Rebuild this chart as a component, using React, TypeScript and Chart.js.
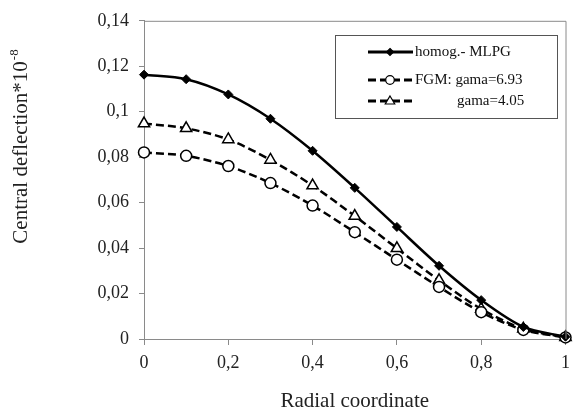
import React, { useEffect, useRef } from "react";
import { Chart, registerables } from "chart.js";

Chart.register(...registerables);

const radial = [0, 0.1, 0.2, 0.3, 0.4, 0.5, 0.6, 0.7, 0.8, 0.9, 1];
const homog = [0.1163, 0.1143, 0.1076, 0.0969, 0.0828, 0.0665, 0.0493, 0.0322, 0.0171, 0.0053, 0.001];
const gama693 = [0.0821, 0.0806, 0.0761, 0.0686, 0.0587, 0.047, 0.0349, 0.0229, 0.0118, 0.004, 0.0007];
const gama405 = [0.0948, 0.0927, 0.0878, 0.0788, 0.0675, 0.0541, 0.0399, 0.0258, 0.0132, 0.0045, 0.0008];
const seriesLabels = ["homog.- MLPG", "FGM: gama=6.93", "gama=4.05"];
const xTitle = "Radial coordinate";
const yTitle = "Central deflection*10";
const yTitleSup = "-8";

const SERIF = "'Liberation Serif', 'Times New Roman', serif";
const AXIS = "#8a8a8a";

const fmt = (v: number) => String(+Number(v).toFixed(2)).replace(".", ",");

const toPts = (ys: number[]) => radial.map((x, i) => ({ x, y: ys[i] }));

function drawMarker(ctx: CanvasRenderingContext2D, style: string, x: number, y: number, r: number) {
  ctx.beginPath();
  if (style === "rectRot") {
    ctx.moveTo(x, y - r);
    ctx.lineTo(x + r, y);
    ctx.lineTo(x, y + r);
    ctx.lineTo(x - r, y);
    ctx.closePath();
  } else if (style === "triangle") {
    ctx.moveTo(x, y - r);
    ctx.lineTo(x + r * 0.95, y + r * 0.6);
    ctx.lineTo(x - r * 0.95, y + r * 0.6);
    ctx.closePath();
  } else {
    ctx.arc(x, y, r, 0, Math.PI * 2);
  }
  ctx.fill();
  ctx.stroke();
}

const framePlugin = {
  id: "frame",
  afterDraw(chart: any) {
    const { ctx, chartArea } = chart;
    ctx.save();
    ctx.strokeStyle = AXIS;
    ctx.lineWidth = 1;
    ctx.beginPath();
    ctx.moveTo(chartArea.left, chartArea.top + 0.5);
    ctx.lineTo(chartArea.right + 0.5, chartArea.top + 0.5);
    ctx.lineTo(chartArea.right + 0.5, chartArea.bottom);
    ctx.stroke();

    ctx.fillStyle = "#222";
    ctx.translate(27, 0);
    ctx.rotate(-Math.PI / 2);
    ctx.font = `21px ${SERIF}`;
    const w1 = ctx.measureText(yTitle).width;
    ctx.font = `13px ${SERIF}`;
    const w2 = ctx.measureText(yTitleSup).width;
    const total = w1 + w2;
    const center = 147;
    const start = -(center + total / 2);
    ctx.textBaseline = "alphabetic";
    ctx.textAlign = "left";
    ctx.font = `21px ${SERIF}`;
    ctx.fillText(yTitle, start, 0);
    ctx.font = `13px ${SERIF}`;
    ctx.fillText(yTitleSup, start + w1 + 1, -9);
    ctx.restore();

    ctx.save();
    const bx = 335, by = 35, bw = 222, bh = 83;
    ctx.fillStyle = "#fff";
    ctx.fillRect(bx, by, bw, bh);
    ctx.strokeStyle = "#555";
    ctx.lineWidth = 1;
    ctx.strokeRect(bx + 0.5, by + 0.5, bw, bh);
    const rows = [52, 80, 101];
    const textX = [415, 415, 457];
    const legR = [3.5, 4.3, 5];
    chart.data.datasets.forEach((ds: any, i: number) => {
      const y = rows[i];
      ctx.save();
      ctx.strokeStyle = "#000";
      ctx.lineWidth = 3;
      ctx.setLineDash(ds.borderDash || []);
      ctx.beginPath();
      ctx.moveTo(368, y);
      ctx.lineTo(413, y);
      ctx.stroke();
      ctx.setLineDash([]);
      ctx.fillStyle = ds.pointBackgroundColor;
      ctx.strokeStyle = "#000";
      ctx.lineWidth = 1.2;
      drawMarker(ctx, ds.pointStyle, 390, y, legR[i]);
      ctx.restore();
      ctx.fillStyle = "#111";
      ctx.font = `15px ${SERIF}`;
      ctx.textBaseline = "middle";
      ctx.textAlign = "left";
      ctx.fillText(seriesLabels[i], textX[i], y);
    });
    ctx.restore();
  },
};

export default function App() {
  const ref = useRef<HTMLCanvasElement | null>(null);
  useEffect(() => {
    document.body.style.margin = "0";
    if (!ref.current) return;
    const chart = new Chart(ref.current, {
      type: "line",
      data: {
        datasets: [
          {
            label: seriesLabels[0],
            data: toPts(homog),
            borderColor: "#000",
            borderWidth: 2.5,
            pointStyle: "rectRot",
            pointRadius: 4.5,
            pointBackgroundColor: "#000",
            pointBorderColor: "#000",
            pointBorderWidth: 1,
            tension: 0.3,
            clip: false as any,
          },
          {
            label: seriesLabels[1],
            data: toPts(gama693),
            borderColor: "#000",
            borderWidth: 2.5,
            borderDash: [8, 4],
            pointStyle: "circle",
            pointRadius: 5.5,
            pointBackgroundColor: "#fff",
            pointBorderColor: "#000",
            pointBorderWidth: 1.5,
            tension: 0.3,
            clip: false as any,
          },
          {
            label: seriesLabels[2],
            data: toPts(gama405),
            borderColor: "#000",
            borderWidth: 2.5,
            borderDash: [8, 4],
            pointStyle: "triangle",
            pointRadius: 6.5,
            pointBackgroundColor: "#fff",
            pointBorderColor: "#000",
            pointBorderWidth: 1.5,
            tension: 0.3,
            clip: false as any,
          },
        ],
      },
      options: {
        animation: false,
        responsive: false,
        layout: { padding: { top: 14, right: 3, left: 0, bottom: 0 } },
        plugins: {
          legend: { display: false },
          tooltip: { enabled: false },
        },
        scales: {
          x: {
            type: "linear",
            min: 0,
            max: 1,
            ticks: {
              stepSize: 0.2,
              callback: (v: any) => fmt(v),
              font: { family: SERIF, size: 18 },
              color: "#222",
              padding: 7,
              maxRotation: 0,
            },
            grid: { drawOnChartArea: false, tickLength: 6, color: AXIS },
            border: { color: AXIS },
            title: {
              display: true,
              text: xTitle,
              font: { family: SERIF, size: 21 },
              color: "#222",
              padding: { top: 10, bottom: 0 },
            },
            afterFit: (s: any) => {
              s.height = 75;
            },
          },
          y: {
            min: 0,
            max: 0.14,
            ticks: {
              stepSize: 0.02,
              callback: (v: any) => fmt(v),
              font: { family: SERIF, size: 18 },
              color: "#222",
              padding: 10,
            },
            grid: { drawOnChartArea: false, tickLength: 5, color: AXIS },
            border: { color: AXIS },
            afterFit: (s: any) => {
              s.width = 144;
            },
          },
        },
      },
      plugins: [framePlugin],
    });
    return () => chart.destroy();
  }, []);
  return (
    <div style={{ width: 577, height: 414 }}>
      <canvas ref={ref} width={577} height={414} style={{ display: "block" }} />
    </div>
  );
}
